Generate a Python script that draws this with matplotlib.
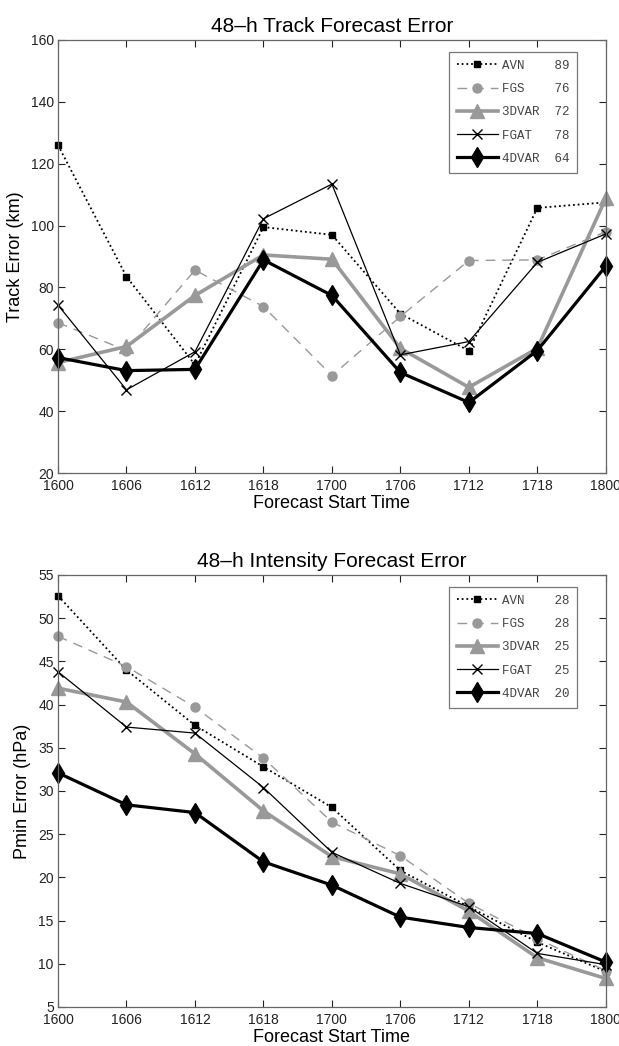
# import libraries
import numpy as np
import matplotlib
matplotlib.use('Agg')
import matplotlib.pyplot as plt

# forecast start times (x axis)
times = ['1600', '1606', '1612', '1618', '1700', '1706', '1712', '1718', '1800']

# experiment names and legend means
names = ['AVN', 'FGS', '3DVAR', 'FGAT', '4DVAR']
track_mean = [89, 76, 72, 78, 64]
pmin_mean = [28, 28, 25, 25, 20]

# 48-h track error (km)
track_avn = [126.0, 83.5, 55.0, 99.5, 97.0, 71.5, 59.5, 105.7, 107.5]
track_fgs = [68.6, 59.6, 85.6, 73.8, 51.5, 70.6, 88.7, 88.9, 98.0]
track_3dvar = [55.7, 60.9, 77.4, 90.5, 89.1, 60.3, 47.7, 60.3, 108.8]
track_fgat = [74.3, 46.9, 59.2, 102.2, 113.4, 58.2, 62.5, 88.1, 97.3]
track_4dvar = [57.3, 53.1, 53.5, 88.9, 77.4, 52.5, 42.8, 59.6, 86.9]

# 48-h intensity error (hPa)
pmin_avn = [52.6, 44.0, 37.6, 32.8, 28.1, 20.8, 16.6, 12.5, 9.1]
pmin_fgs = [47.9, 44.4, 39.7, 33.8, 26.4, 22.5, 17.0, 12.9, 9.2]
pmin_3dvar = [41.9, 40.3, 34.3, 27.7, 22.4, 20.4, 16.1, 10.7, 8.3]
pmin_fgat = [43.8, 37.4, 36.7, 30.4, 22.9, 19.3, 16.6, 11.2, 9.9]
pmin_4dvar = [32.1, 28.4, 27.5, 21.8, 19.1, 15.4, 14.2, 13.5, 10.2]

gray = '#999999'
# line styles for each experiment
styles = [
	dict(color='black', ls=(0, (1, 1.6)), lw=1.3, marker='s', ms=4.3, mfc='black', mec='black'),
	dict(color=gray, ls=(0, (7, 5)), lw=1.0, marker='o', ms=6.5, mfc=gray, mec=gray),
	dict(color=gray, ls='-', lw=2.6, marker='^', ms=9.5, mfc=gray, mec=gray),
	dict(color='black', ls='-', lw=0.9, marker='x', ms=7, mew=1.0),
	dict(color='black', ls='-', lw=2.3, marker='d', ms=10, mfc='black', mec='black'),
]

fs_title = 15   # title font size
fs = 13         # axis label font size


def error_panel(ax, series, means, title, ylabel, yticks):
	x = np.arange(len(times))
	for s, name, m, st in zip(series, names, means, styles):
		pad = ' ' * (7 - len(name))
		ax.plot(x, s, label=name + pad + str(m), clip_on=False, **st)

	ax.set_xlim(0, len(times) - 1)
	ax.set_ylim(yticks[0], yticks[-1])
	ax.set_xticks(x)
	ax.set_xticklabels(times)
	ax.set_yticks(yticks)

	#matlab style axes
	ax.tick_params(direction='in', top=True, right=True, length=5,
		labelsize=10, colors='#222222')
	ax.tick_params(axis='x', pad=4)
	ax.tick_params(axis='y', pad=3)
	for sp in ax.spines.values():
		sp.set_color('#666666')
		sp.set_linewidth(0.9)

	ax.set_title(title, fontsize=fs_title, pad=6)
	ax.set_xlabel('Forecast Start Time', fontsize=fs, labelpad=2)
	ax.set_ylabel(ylabel, fontsize=fs, labelpad=5)

	leg = ax.legend(loc='upper right', bbox_to_anchor=(0.948, 0.973),
		borderaxespad=0, fancybox=False, framealpha=1, edgecolor='#777777',
		prop={'family': 'Liberation Mono', 'size': 9}, handlelength=3.3,
		handletextpad=0.3, labelspacing=0.9, borderpad=0.65, numpoints=1)
	leg.get_frame().set_linewidth(0.9)
	for t in leg.get_texts():
		t.set_color('#444444')


def main():
	plt.rcParams['font.family'] = ['Liberation Sans', 'DejaVu Sans']

	fig = plt.figure(figsize=(6.19, 10.46), dpi=100)
	ax1 = fig.add_axes([0.0937, 0.5478, 0.885, 0.414])
	ax2 = fig.add_axes([0.0937, 0.0373, 0.885, 0.413])

	error_panel(ax1, [track_avn, track_fgs, track_3dvar, track_fgat, track_4dvar],
		track_mean, '48\u2013h Track Forecast Error', 'Track Error (km)',
		np.arange(20, 161, 20))
	error_panel(ax2, [pmin_avn, pmin_fgs, pmin_3dvar, pmin_fgat, pmin_4dvar],
		pmin_mean, '48\u2013h Intensity Forecast Error', 'Pmin Error (hPa)',
		np.arange(5, 56, 5))

	fig.savefig('out.png', dpi=100)


if __name__ == '__main__':
	main()
